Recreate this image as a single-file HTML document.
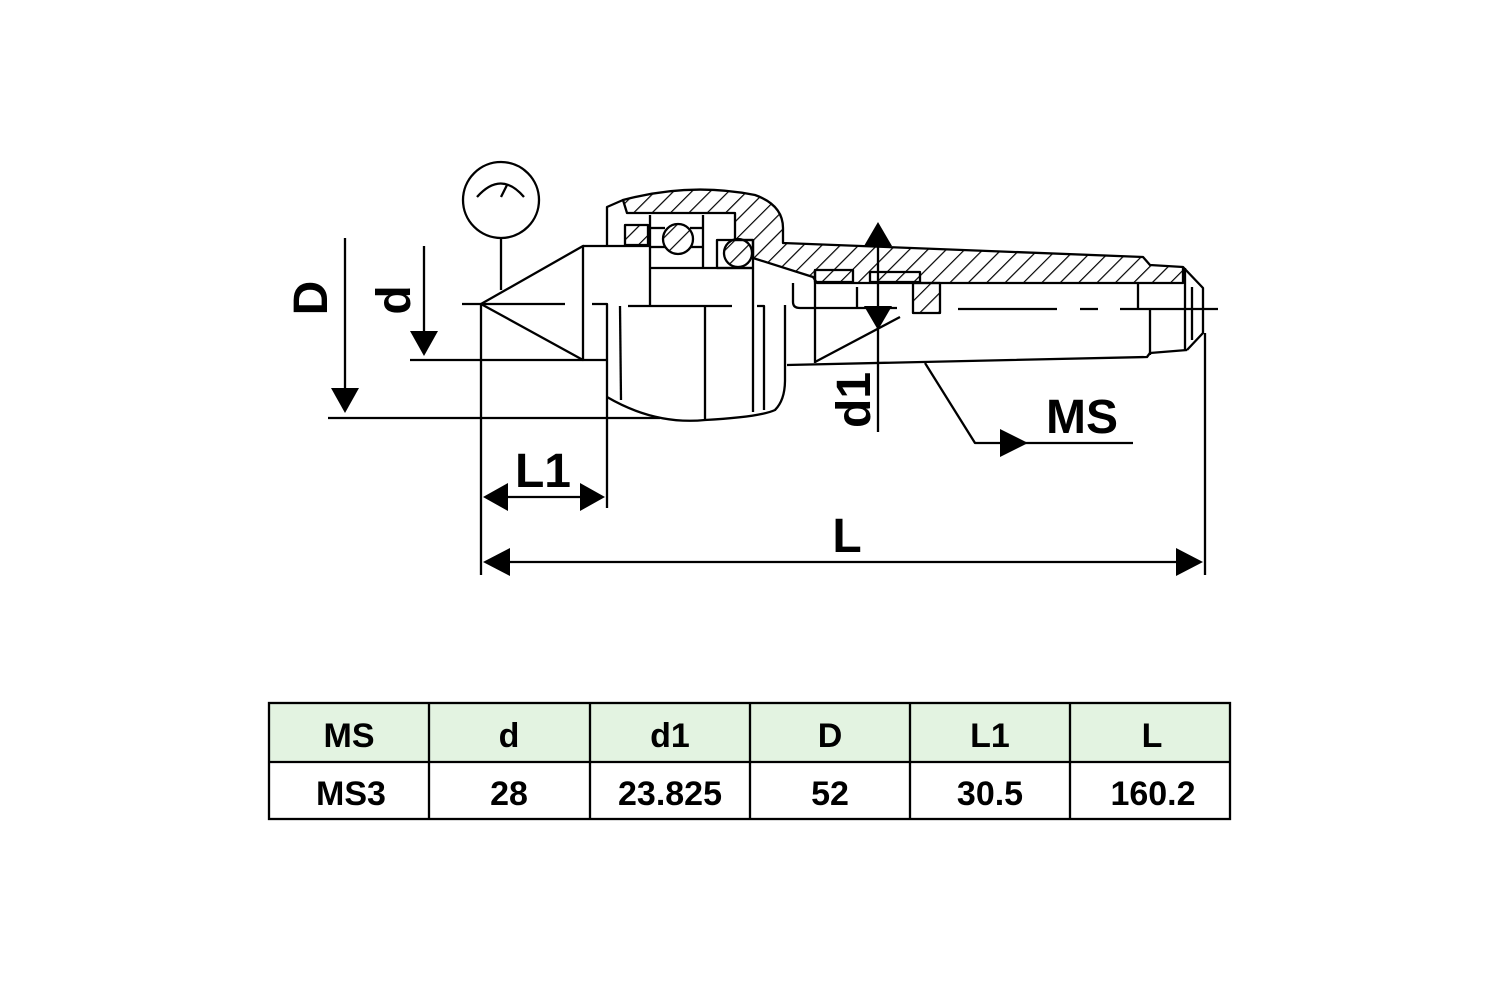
<!DOCTYPE html>
<html><head><meta charset="utf-8"><style>
html,body{margin:0;padding:0;background:#fff;width:1500px;height:1000px;overflow:hidden}
svg{position:absolute;left:0;top:0}
</style></head><body>
<svg width="1500" height="1000" viewBox="0 0 1500 1000" xmlns="http://www.w3.org/2000/svg" font-family="Liberation Sans, sans-serif" font-weight="bold">
<defs>
<pattern id="h" patternUnits="userSpaceOnUse" width="13" height="13" patternTransform="rotate(45)">
<line x1="0" y1="0" x2="0" y2="13" stroke="#000" stroke-width="2.4"/>
</pattern>
</defs>
<g fill="none" stroke="#000" stroke-width="2.3" stroke-linejoin="round">
<circle cx="501" cy="200" r="38"/>
<path d="M477,197 Q501,170 524,197"/>
<line x1="501" y1="197" x2="507" y2="185"/>
<line x1="501" y1="238" x2="501" y2="290"/>
<path d="M481,304 L583,246 L583,360 Z"/>
<line x1="462" y1="304" x2="565" y2="304"/>
<line x1="583" y1="246" x2="650" y2="246"/>
<line x1="650" y1="215" x2="650" y2="307"/>
<line x1="703" y1="215" x2="703" y2="268"/>
<line x1="650" y1="268" x2="753" y2="268"/>
<line x1="650" y1="228" x2="665" y2="228"/><line x1="690" y1="228" x2="703" y2="228"/>
<line x1="650" y1="247" x2="665" y2="247"/><line x1="690" y1="247" x2="703" y2="247"/>
<rect x="625" y="225" width="23" height="20" fill="url(#h)"/>
<circle cx="678" cy="239" r="15" fill="url(#h)"/>
<rect x="717" y="240" width="36" height="28"/>
<circle cx="738" cy="253" r="14" fill="url(#h)"/>
<path d="M623,200 Q690,182 755,195 Q783,205 783,228 L783,243 L1143,257 L1150,265 L1183,267 L1183,283 L817,283 L813,277 L753,258 L753,240 L735,240 L735,213 L627,213 Z" fill="url(#h)"/>
<path d="M607,246 L607,207 L623,200"/>
<path d="M592,304 L607,304 L607,410"/>
<line x1="620" y1="306" x2="621" y2="400"/>
<line x1="628" y1="306" x2="732" y2="306"/>
<line x1="705" y1="307" x2="705" y2="420"/>
<path d="M607,397 Q655,425 705,420 Q760,417 775,410 Q785,400 785,380 L785,305"/>
<line x1="753" y1="268" x2="753" y2="412"/>
<path d="M757,306 L764,306 L764,410"/>
<path d="M787,365 L1147,357 L1150,353 L1187,350"/>
<path d="M1150,355 L1150,310"/>
<path d="M1183,267 L1203,288 L1203,333 L1187,350"/>
<line x1="1185" y1="268" x2="1185" y2="350"/>
<line x1="1192" y1="287" x2="1192" y2="340"/>
<line x1="1138" y1="283" x2="1138" y2="308"/>
<path d="M793,283 L793,302 Q793,308 800,308 L897,308"/>
<line x1="815" y1="270" x2="815" y2="363"/>
<rect x="815" y="270" width="38" height="12"/>
<rect x="870" y="272" width="50" height="10"/>
<line x1="857" y1="287" x2="857" y2="307"/>
<rect x="913" y="283" width="27" height="30" fill="url(#h)"/>
<line x1="815" y1="362" x2="900" y2="317"/>
<line x1="958" y1="309" x2="1057" y2="309"/>
<line x1="1080" y1="309" x2="1098" y2="309"/>
<line x1="1120" y1="309" x2="1218" y2="309"/>
<line x1="878" y1="240" x2="878" y2="432"/>
<path d="M925,363 L975,443 L1133,443"/>
<line x1="345" y1="238" x2="345" y2="392"/>
<line x1="328" y1="418" x2="660" y2="418"/>
<line x1="424" y1="246" x2="424" y2="335"/>
<line x1="410" y1="360" x2="607" y2="360"/>
<line x1="481" y1="304" x2="481" y2="575"/>
<line x1="1205" y1="333" x2="1205" y2="575"/>
<line x1="607" y1="410" x2="607" y2="508"/>
<line x1="500" y1="497" x2="590" y2="497"/>
<line x1="500" y1="562" x2="1185" y2="562"/>
</g>
<g fill="#000">
<polygon points="878,222 864,246 892,246"/>
<polygon points="878,330 864,306 892,306"/>
<polygon points="1028,443 1000,429 1000,457"/>
<polygon points="345,413 331,388 359,388"/>
<polygon points="424,356 410,331 438,331"/>
<polygon points="483,497 508,483 508,511"/>
<polygon points="605,497 580,483 580,511"/>
<polygon points="483,562 510,548 510,576"/>
<polygon points="1203,562 1176,548 1176,576"/>
</g>
<g font-size="48" fill="#000">
<text x="1082" y="433" text-anchor="middle">MS</text>
<text x="543" y="487" text-anchor="middle">L1</text>
<text x="847" y="552" text-anchor="middle">L</text>
<text transform="translate(327,298) rotate(-90)" text-anchor="middle">D</text>
<text transform="translate(410,300) rotate(-90)" text-anchor="middle">d</text>
<text transform="translate(870,400) rotate(-90)" text-anchor="middle">d1</text>
</g>
<rect x="269" y="703" width="961" height="59" fill="#e3f3e1"/>
<g stroke="#000" stroke-width="2.3" fill="none">
<rect x="269" y="703" width="961" height="116"/>
<line x1="269" y1="762" x2="1230" y2="762"/>
<line x1="429" y1="703" x2="429" y2="819"/>
<line x1="590" y1="703" x2="590" y2="819"/>
<line x1="750" y1="703" x2="750" y2="819"/>
<line x1="910" y1="703" x2="910" y2="819"/>
<line x1="1070" y1="703" x2="1070" y2="819"/>
</g>
<g font-size="34" text-anchor="middle" fill="#000">
<text x="349" y="747">MS</text><text x="509" y="747">d</text><text x="670" y="747">d1</text>
<text x="830" y="747">D</text><text x="990" y="747">L1</text><text x="1152" y="747">L</text>
<text x="351" y="805">MS3</text><text x="509" y="805">28</text><text x="670" y="805">23.825</text>
<text x="830" y="805">52</text><text x="990" y="805">30.5</text><text x="1153" y="805">160.2</text>
</g>
</svg>
</body></html>
